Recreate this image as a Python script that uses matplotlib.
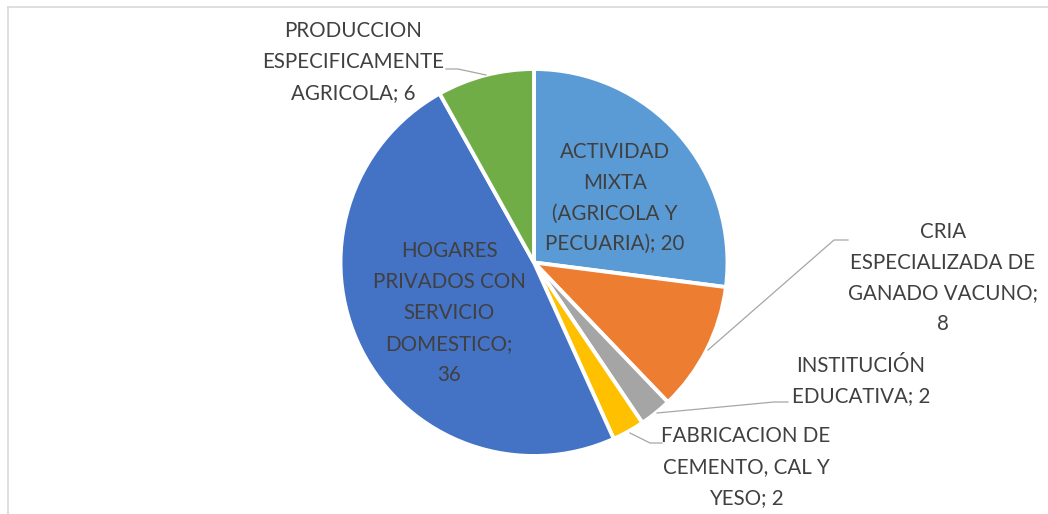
import matplotlib.pyplot as plt
from matplotlib.lines import Line2D

# data
categories = [
    "ACTIVIDAD\nMIXTA\n(AGRICOLA Y\nPECUARIA)",
    "CRIA\nESPECIALIZADA DE\nGANADO VACUNO;",
    "INSTITUCIÓN\nEDUCATIVA",
    "FABRICACION DE\nCEMENTO, CAL Y\nYESO",
    "HOGARES\nPRIVADOS CON\nSERVICIO\nDOMESTICO;",
    "PRODUCCION\nESPECIFICAMENTE\nAGRICOLA",
]
values = [20, 8, 2, 2, 36, 6]
# how the value joins the name in each label ("; " or a line break)
joiners = ["; ", "\n", "; ", "; ", "\n", "; "]

colors = ["#5B9BD5", "#ED7D31", "#A5A5A5", "#FFC000", "#4472C4", "#70AD47"]
C_TXT = "#404040"
C_LEAD = "#A6A6A6"

W, H = 1048, 514
CX, CY, R = 534, H - 262.5, 193.5

# label centres in pixels (from top-left), and leader polylines
label_pos = [(615, 198), (943, 278), (861, 381), (746, 467), (449, 313), (353, 62)]
leaders = [
    None,
    [(848, 240), (834, 240), (708, 350)],
    [(788, 402), (774, 402), (657, 413)],
    [(662, 443), (650, 443), (630, 433)],
    None,
    [(446, 69), (458, 69), (486, 75)],
]

plt.rcParams["font.family"] = ["Lato", "DejaVu Sans"]

fig = plt.figure(figsize=(W / 100, H / 100), dpi=100)
ax = fig.add_axes([0, 0, 1, 1])

ax.pie(values, colors=colors, startangle=90, counterclock=False,
       center=(CX, CY), radius=R,
       wedgeprops=dict(edgecolor="white", linewidth=2.8))
ax.set_xlim(0, W)
ax.set_ylim(0, H)
ax.set_aspect("equal")
ax.axis("off")

for name, v, j, (x, y), lead in zip(categories, values, joiners, label_pos, leaders):
    ax.text(x, H - y, f"{name}{j}{v}", ha="center", va="center",
            fontsize=14.8, color=C_TXT, linespacing=1.68)
    if lead:
        xs = [p[0] for p in lead]
        ys = [H - p[1] for p in lead]
        ax.plot(xs, ys, color=C_LEAD, lw=0.9)

# chart area border (only top and left fall inside the picture)
fig.add_artist(Line2D([7.5 / W, 7.5 / W], [0, 1 - 6.5 / H],
                      transform=fig.transFigure, color="#D9D9D9", lw=1.2))
fig.add_artist(Line2D([7.5 / W, 1], [1 - 6.5 / H, 1 - 6.5 / H],
                      transform=fig.transFigure, color="#D9D9D9", lw=1.2))

fig.savefig("out.png", dpi=100, facecolor="white")
